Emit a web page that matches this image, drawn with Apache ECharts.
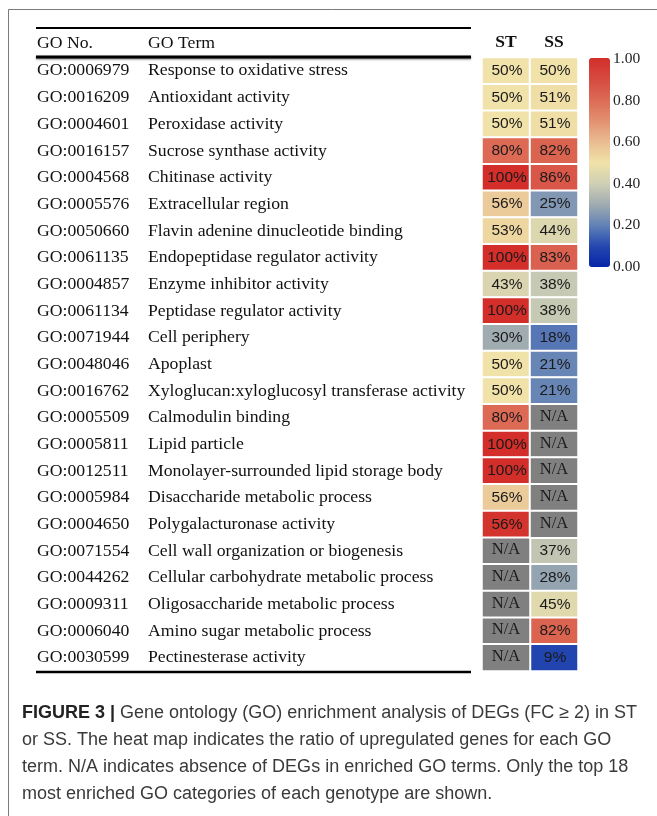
<!DOCTYPE html>
<html>
<head>
<meta charset="utf-8">
<script src="https://cdn.jsdelivr.net/npm/echarts@6/dist/echarts.min.js"></script>
<style>
html,body{margin:0;padding:0;background:#fff;}
#c{width:657px;height:816px;}
</style>
</head>
<body>
<div id="c"></div>
<script>
const goIds = ['GO:0006979','GO:0016209','GO:0004601','GO:0016157','GO:0004568','GO:0005576','GO:0050660','GO:0061135','GO:0004857','GO:0061134','GO:0071944','GO:0048046','GO:0016762','GO:0005509','GO:0005811','GO:0012511','GO:0005984','GO:0004650','GO:0071554','GO:0044262','GO:0009311','GO:0006040','GO:0030599'];
const goTerms = ['Response to oxidative stress','Antioxidant activity','Peroxidase activity','Sucrose synthase activity','Chitinase activity','Extracellular region','Flavin adenine dinucleotide binding','Endopeptidase regulator activity','Enzyme inhibitor activity','Peptidase regulator activity','Cell periphery','Apoplast','Xyloglucan:xyloglucosyl transferase activity','Calmodulin binding','Lipid particle','Monolayer-surrounded lipid storage body','Disaccharide metabolic process','Polygalacturonase activity','Cell wall organization or biogenesis','Cellular carbohydrate metabolic process','Oligosaccharide metabolic process','Amino sugar metabolic process','Pectinesterase activity'];
const genotypes = ['ST','SS'];
const stValues = [50,50,50,80,100,56,53,100,43,100,30,50,50,80,100,100,56,56,null,null,null,null,null];
const ssValues = [50,51,51,82,86,25,44,83,38,38,18,21,21,null,null,null,null,null,37,28,45,82,9];
const captionLines = [
  '{b|FIGURE 3 |} Gene ontology (GO) enrichment analysis of DEGs (FC \u2265 2) in ST',
  'or SS. The heat map indicates the ratio of upregulated genes for each GO',
  'term. N/A indicates absence of DEGs in enriched GO terms. Only the top 18',
  'most enriched GO categories of each genotype are shown.'
];

// fill ratios used for colouring (reference draws the 56% Polygalacturonase cell in red)
const stFill = stValues.map(v => v == null ? null : v / 100);
stFill[17] = 0.98;
const ssFill = ssValues.map(v => v == null ? null : v / 100);

const rows = goIds.map((id, i) => i);
const cellData = [];
const naData = [];
[[stValues, stFill], [ssValues, ssFill]].forEach(([vals, fills], c) => {
  vals.forEach((v, r) => {
    if (v == null) naData.push([c, r, 0]);
    else cellData.push([c, r, fills[r], v + '%']);
  });
});

const SERIF = '"Liberation Serif", "Times New Roman", serif';
const SANS = '"Liberation Sans", Arial, sans-serif';

const chart = echarts.init(document.getElementById('c'), null, {renderer: 'canvas'});
chart.setOption({
  animation: false,
  backgroundColor: '#fff',
  grid: [
    {left: 482, top: 57.5, width: 96, height: 613.5},
    {left: 589, top: 59, width: 21, height: 208}
  ],
  xAxis: [
    {type: 'category', gridIndex: 0, data: genotypes, position: 'top',
     axisLine: {show: false}, axisTick: {show: false}, splitLine: {show: false},
     axisLabel: {margin: 6, fontFamily: SERIF, fontSize: 17.5, fontWeight: 'bold', color: '#111'}},
    {type: 'value', gridIndex: 1, show: false}
  ],
  yAxis: [
    {type: 'category', gridIndex: 0, data: rows, inverse: true,
     axisLine: {show: false}, axisTick: {show: false}, splitLine: {show: false},
     axisLabel: {margin: 445, align: 'left', interval: 0,
       formatter: i => '{id|' + goIds[i] + '}{t|' + goTerms[i] + '}',
       rich: {
         id: {width: 111, fontFamily: SERIF, fontSize: 17.7, color: '#111'},
         t: {fontFamily: SERIF, fontSize: 17.7, color: '#111'}
       }}},
    {type: 'value', gridIndex: 1, min: 0, max: 1, interval: 0.2, position: 'right',
     axisLine: {show: false}, axisTick: {show: false}, splitLine: {show: false},
     axisLabel: {margin: 3, fontFamily: SERIF, fontSize: 15.5, color: '#222',
       formatter: v => v.toFixed(2)}}
  ],
  visualMap: {
    type: 'continuous', min: 0, max: 1, dimension: 2, seriesIndex: 0,
    calculable: false, hoverLink: false, padding: 0,
    left: 589, top: 58, itemWidth: 21, itemHeight: 209,
    text: null, showLabel: false,
    inRange: {color: ['#0624a8','#2448b0','#6282b6','#a0acb0','#d0d0b4','#f0e2a8','#e9bb92','#e29070','#dc6a55','#d64a40','#d32e2a']}
  },
  series: [
    {type: 'heatmap', xAxisIndex: 0, yAxisIndex: 0, data: cellData,
     itemStyle: {borderColor: '#fff', borderWidth: 2},
     label: {show: true, formatter: p => p.value[3], fontFamily: SANS, fontSize: 15.5, color: '#1a1a1a', offset: [1, 0]}},
    {type: 'heatmap', xAxisIndex: 0, yAxisIndex: 0, data: naData,
     itemStyle: {color: '#808080', borderColor: '#fff', borderWidth: 2},
     label: {show: true, formatter: 'N/A', fontFamily: SERIF, fontSize: 16.5, color: '#1a1a1a', offset: [0, -1]}},
    {type: 'line', xAxisIndex: 1, yAxisIndex: 1, data: [], silent: true}
  ],
  graphic: [
    {type: 'polyline', silent: true, shape: {points: [[8.5, 816], [8.5, 9.5], [657, 9.5]]}, style: {stroke: '#7a7a7a', lineWidth: 1, fill: null}},
    {type: 'line', silent: true, shape: {x1: 36, y1: 28, x2: 471, y2: 28}, style: {stroke: '#000', lineWidth: 2}},
    {type: 'line', silent: true, shape: {x1: 36, y1: 57, x2: 471, y2: 57}, style: {stroke: '#000', lineWidth: 3, shadowBlur: 2, shadowColor: 'rgba(0,0,0,0.5)', shadowOffsetY: 1}},
    {type: 'line', silent: true, shape: {x1: 36, y1: 672, x2: 471, y2: 672}, style: {stroke: '#000', lineWidth: 2.5}},
    {type: 'text', silent: true, x: 37, y: 43, style: {text: 'GO No.', font: '17.7px ' + SERIF, fill: '#111', verticalAlign: 'middle'}},
    {type: 'text', silent: true, x: 148, y: 43, style: {text: 'GO Term', font: '17.7px ' + SERIF, fill: '#111', verticalAlign: 'middle'}},
  ].concat(captionLines.map((t, k) => ({
    type: 'text', silent: true, x: 22, y: 713 + k * 27,
    style: {text: t, font: '18px ' + SANS, fill: '#3a3a3a', verticalAlign: 'middle',
      rich: {b: {font: 'bold 18px ' + SANS, fill: '#222'}}}
  })))
});
</script>
</body>
</html>
